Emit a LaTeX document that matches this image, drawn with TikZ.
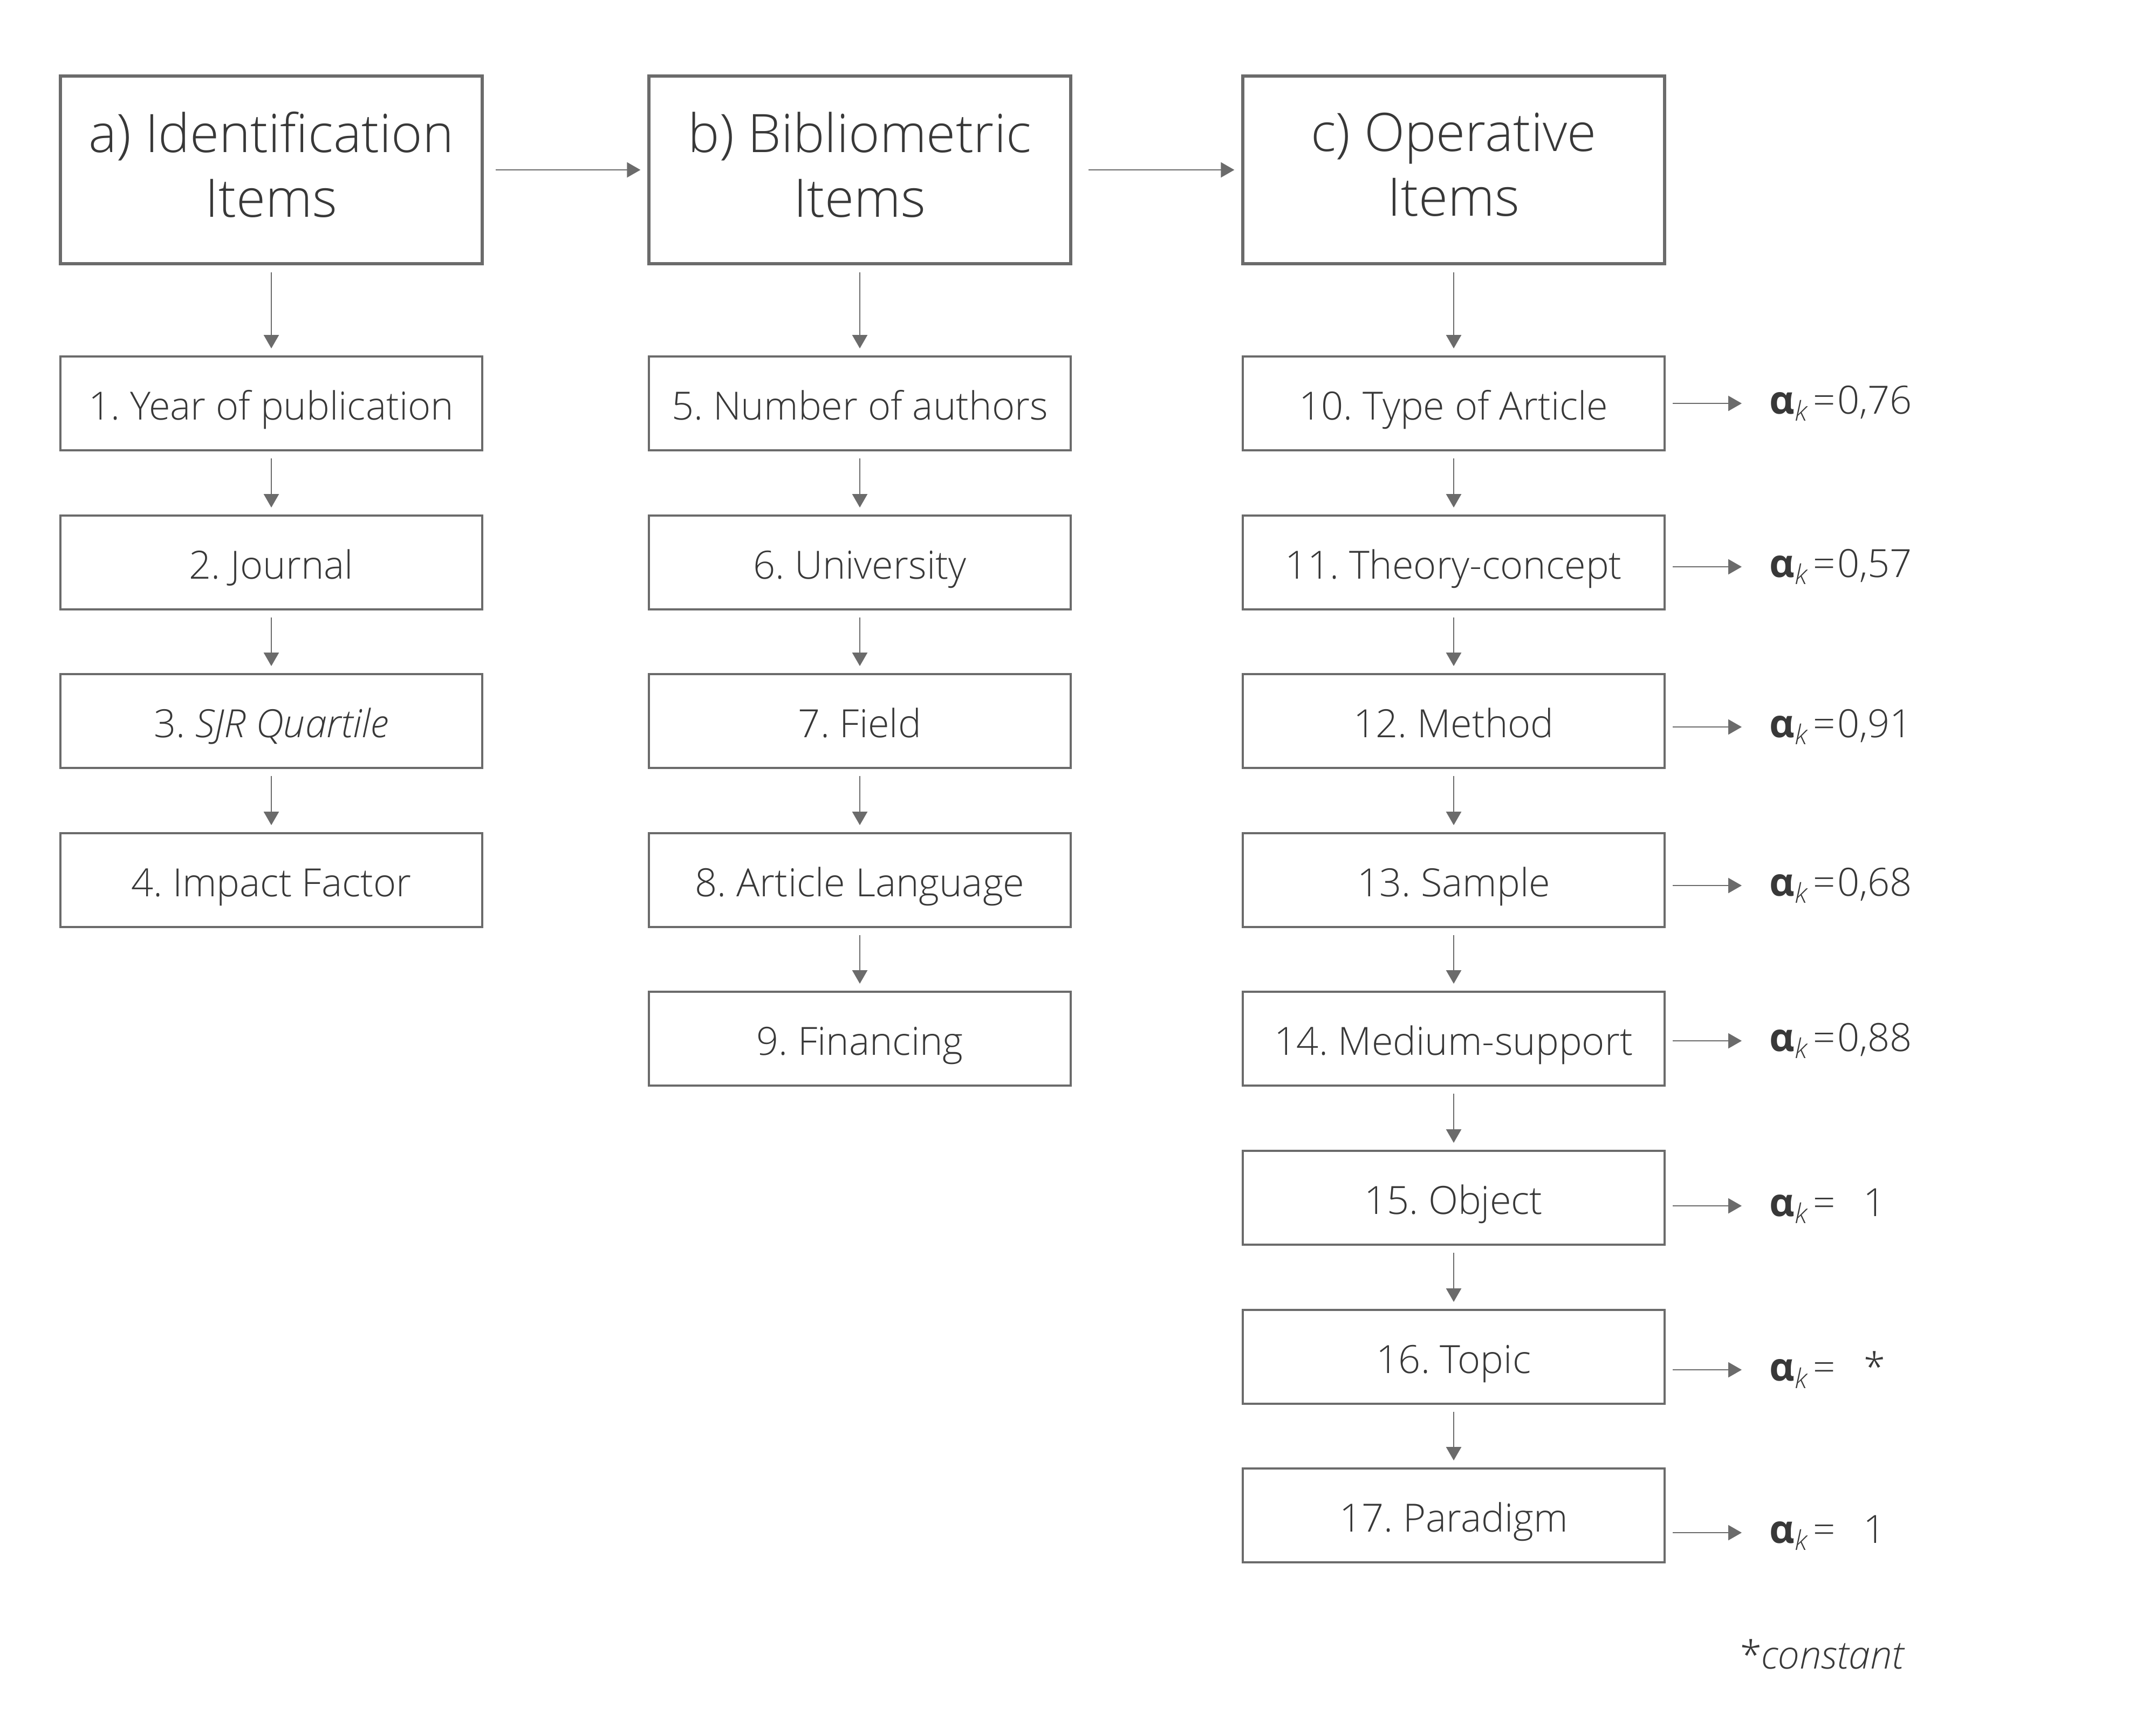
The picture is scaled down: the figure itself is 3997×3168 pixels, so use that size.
\documentclass[tikz,border=0pt]{standalone}
\usepackage{fontspec}
\setmainfont{Open Sans}[UprightFont=* Light, ItalicFont=* Light Italic, BoldFont=* Bold]
\usetikzlibrary{arrows.meta}
\definecolor{linegray}{HTML}{6B6B6B}
\definecolor{textgray}{HTML}{383838}
\frenchspacing
\newcommand{\alphak}[1]{{\bfseries α}\textsubscript{\itshape k}\hspace{0.9mm}=\hspace{1mm}\makebox[12.6mm]{#1}}

\begin{document}
\begin{tikzpicture}[x=0.1mm, y=-0.1mm]
        \tikzstyle{header}=[draw=linegray, line width=1.5pt, minimum width=78.2mm, minimum height=34.8mm, align=center, text depth=2mm, text=textgray, font=\fontsize{28}{34}\selectfont]
        \tikzstyle{item}=[draw=linegray, line width=1.1pt, minimum width=78.2mm, minimum height=17.4mm, text height=7mm, text depth=1mm, text=textgray, font=\fontsize{20.5}{25}\selectfont]
        \tikzstyle{coef}=[anchor=west, inner sep=0pt, text=textgray, font=\fontsize{20.5}{25}\selectfont]
        \tikzstyle{link}=[draw=linegray, line width=0.7pt, -{Triangle[length=2.5mm,width=2.8mm]}, shorten <=1.3mm, shorten >=1.3mm]
        \useasboundingbox (0,0) rectangle (3997,3168);

        \node[header] (H_a) at (503,315) {a) Identification\\Items};
        \node[header] (H_b) at (1594,315) {b) Bibliometric\\Items};
        \node[header] (H_c) at (2695,315) {c) Operative\\Items};

        \node[item] (I_1) at (503,748)  {1. Year of publication};
        \node[item] (I_2) at (503,1043) {2. Journal};
        \node[item] (I_3) at (503,1337) {3. \textit{SJR Quartile}};
        \node[item] (I_4) at (503,1632) {4. Impact Factor};

        \node[item] (I_5) at (1594,748)  {5. Number of authors};
        \node[item] (I_6) at (1594,1043) {6. University};
        \node[item] (I_7) at (1594,1337) {7. Field};
        \node[item] (I_8) at (1594,1632) {8. Article Language};
        \node[item] (I_9) at (1594,1926) {9. Financing};

        \node[item] (I_10) at (2695,748)  {10. Type of Article};
        \node[item] (I_11) at (2695,1043) {11. Theory-concept};
        \node[item] (I_12) at (2695,1337) {12. Method};
        \node[item] (I_13) at (2695,1632) {13. Sample};
        \node[item] (I_14) at (2695,1926) {14. Medium-support};
        \node[item] (I_15) at (2695,2221) {15. Object};
        \node[item] (I_16) at (2695,2516) {16. Topic};
        \node[item] (I_17) at (2695,2810) {17. Paradigm};

        \node[coef] (A_10) at (3280,748)  {\alphak{0,76}};
        \node[coef] (A_11) at (3280,1051) {\alphak{0,57}};
        \node[coef] (A_12) at (3280,1348) {\alphak{0,91}};
        \node[coef] (A_13) at (3280,1642) {\alphak{0,68}};
        \node[coef] (A_14) at (3280,1930) {\alphak{0,88}};
        \node[coef] (A_15) at (3280,2236) {\alphak{1}};
        \node[coef] (A_16) at (3280,2540) {\alphak{*}};
        \node[coef] (A_17) at (3280,2842) {\alphak{1}};

        \node[text=textgray, font=\fontsize{20.5}{25}\selectfont] (note) at (3379,3067) {*\textit{constant}};

        \draw[link, shorten <=2.2mm] (H_a) -- (H_b);
        \draw[link, shorten <=3mm] (H_b) -- (H_c);

        \foreach \u/\v in {H_a/I_1, I_1/I_2, I_2/I_3, I_3/I_4,
                           H_b/I_5, I_5/I_6, I_6/I_7, I_7/I_8, I_8/I_9,
                           H_c/I_10, I_10/I_11, I_11/I_12, I_12/I_13, I_13/I_14, I_14/I_15, I_15/I_16, I_16/I_17}
            \draw[link] (\u) -- (\v);

        \foreach \n in {10,...,17}
            \draw[link, shorten >=5.1mm] (I_\n.east |- A_\n.west) -- (A_\n.west);
\end{tikzpicture}
\end{document}
